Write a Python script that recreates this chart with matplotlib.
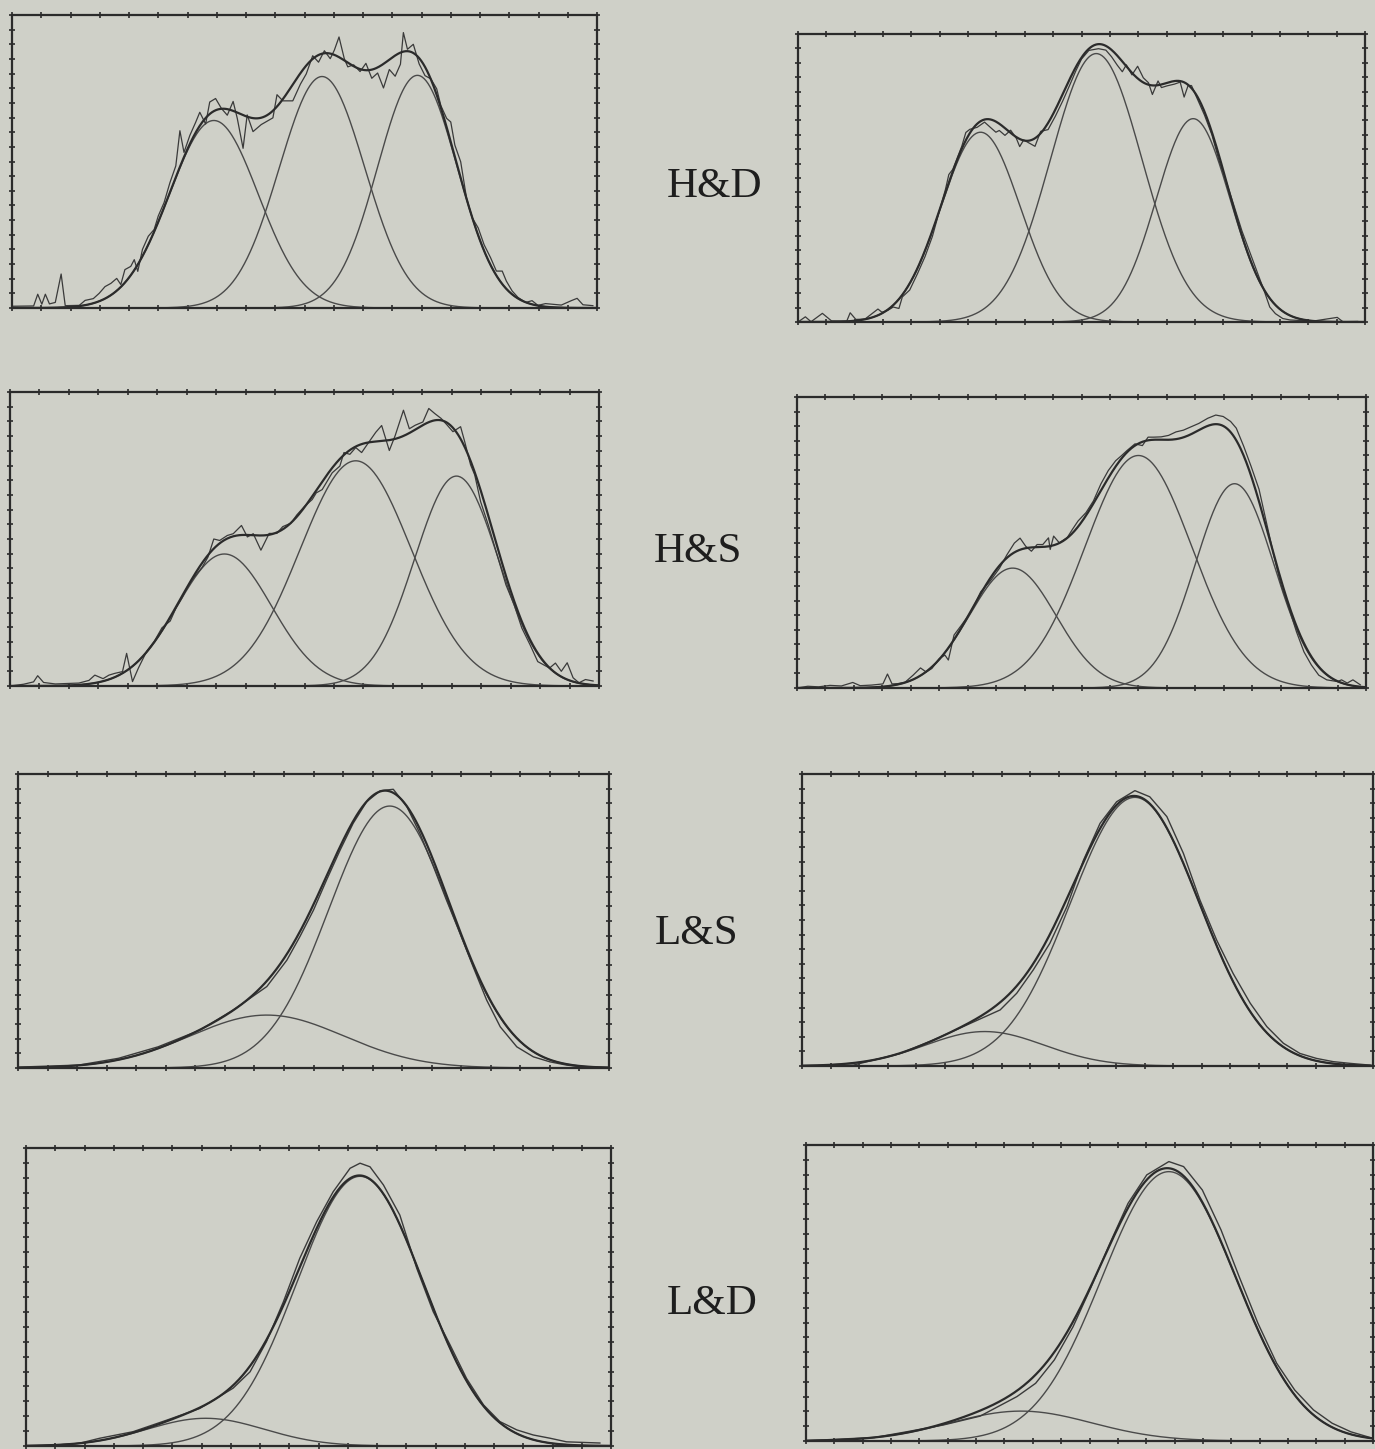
import numpy as np
import matplotlib
matplotlib.use("Agg")
import matplotlib.pyplot as plt

# ---------------- data (x: 0-100 channel scale, y: 0-100 relative counts) ----------------
row_labels = ["H&D", "H&S", "L&S", "L&D"]

# H&D, left panel
hd_l_x = [0, 3.7, 4.4, 5.1, 5.7, 6.4, 7.4, 8.4, 9.1, 11.5, 12.5, 13.9, 14.9, 15.9, 16.9, 17.9, 18.6, 19.3,
          20.3, 20.9, 21.5, 22.3, 23.3, 24.3, 25.0, 26.0, 27.0, 28.0, 28.7, 29.4, 30.4, 31.4, 32.1, 33.1,
          33.8, 34.8, 35.8, 36.8, 37.8, 38.5, 39.5, 40.2, 41.2, 42.6, 44.6, 45.3, 46.3, 48.0, 49.3, 50.3,
          51.4, 52.4, 53.4, 54.4, 55.1, 55.9, 56.8, 57.4, 58.4, 59.5, 60.5, 61.5, 62.5, 63.5, 64.5, 65.5,
          66.4, 66.9, 67.6, 68.6, 69.6, 70.6, 71.6, 72.6, 73.3, 74.3, 75.0, 75.7, 76.7, 77.7, 78.7, 79.7,
          80.7, 81.8, 82.8, 83.8, 84.5, 85.5, 86.5, 87.8, 88.9, 89.9, 91.2, 93.9, 95.6, 96.6, 97.6, 99.3]
hd_l_y = [0.6, 0.7, 4.7, 1.3, 4.7, 1.4, 1.9, 11.6, 0.8, 0.9, 2.6, 3.2, 5.0, 7.3, 8.4, 10.1, 8.0, 13.1,
          14.2, 16.5, 12.5, 20.0, 24.5, 26.8, 31.4, 36.0, 42.8, 48.5, 60.5, 53.1, 58.9, 63.4, 66.8, 62.8,
          70.3, 71.5, 68.1, 65.8, 70.5, 64.8, 54.5, 65.9, 60.2, 62.6, 64.9, 72.8, 70.7, 70.7, 76.4, 79.9,
          86.1, 83.9, 87.8, 85.1, 88.0, 92.5, 85.1, 82.3, 83.0, 80.7, 83.5, 78.4, 80.2, 75.1, 81.4, 79.1,
          83.2, 94.0, 88.3, 90.0, 83.3, 79.3, 78.2, 74.8, 69.1, 64.7, 63.5, 55.6, 49.9, 37.5, 30.7, 27.3,
          21.6, 17.2, 12.6, 12.6, 9.2, 5.8, 3.6, 1.9, 2.5, 0.9, 1.5, 1.0, 2.5, 3.3, 1.1, 0.8]
hd_l_center = [34.5, 53.0, 69.3]
hd_l_amp = [64.0, 79.0, 79.4]
hd_l_sigma = [7.6, 7.3, 6.8]

# H&D, right panel
hd_r_x = [0, 1.3, 2.3, 4.3, 5.9, 8.6, 9.2, 10.2, 11.8, 14.1, 14.8, 15.8, 16.8, 17.8, 18.4, 19.7, 21.1,
          22.4, 23.7, 25.0, 26.0, 26.6, 27.3, 28.0, 28.9, 29.6, 30.3, 31.6, 32.9, 34.2, 34.9, 35.5, 36.5,
          37.5, 38.5, 39.1, 39.8, 40.8, 41.8, 42.8, 44.1, 45.4, 46.7, 48.0, 49.0, 50.0, 51.3, 53.0, 54.3,
          55.3, 56.3, 57.2, 57.9, 58.9, 59.9, 60.9, 61.8, 62.5, 63.5, 64.1, 65.1, 66.4, 67.4, 68.1, 68.8,
          69.4, 70.4, 71.7, 73.0, 74.3, 75.7, 77.0, 78.3, 79.6, 80.9, 82.2, 83.2, 84.2, 85.5, 86.8, 90.8,
          95.1, 96.1, 98.7]
hd_r_y = [0, 1.8, 0.1, 3.0, 0.4, 0.3, 3.2, 0.9, 1.0, 4.5, 3.4, 4.0, 5.2, 4.7, 8.7, 11.1, 16.9,
          22.7, 29.7, 39.0, 46.0, 51.2, 53.0, 56.5, 61.1, 65.8, 66.9, 67.6, 69.4, 67.1, 65.9, 66.5, 64.8,
          66.6, 63.8, 60.9, 63.2, 62.1, 61.0, 66.2, 66.8, 71.5, 76.8, 82.6, 87.2, 91.3, 94.3, 94.9, 94.4,
          92.1, 89.2, 86.9, 89.3, 85.8, 88.8, 84.8, 83.1, 79.0, 83.7, 81.4, 82.0, 82.6, 83.3, 78.1, 82.1,
          82.1, 77.6, 71.8, 65.0, 55.8, 47.7, 39.7, 31.6, 24.7, 17.8, 10.9, 5.2, 2.9, 1.2, 0.7, 0.3,
          1.6, 0.1, 0.2]
hd_r_center = [32.2, 52.6, 69.7]
hd_r_amp = [65.9, 93.2, 70.6]
hd_r_sigma = [7.0, 8.07, 6.5]

# H&S, left panel
hs_l_x = [0, 2.3, 4.0, 4.7, 5.7, 7.7, 11.7, 13.4, 14.4, 15.8, 16.8, 17.8, 19.1, 19.8, 20.8, 21.8, 23.2,
          24.5, 25.8, 27.2, 28.2, 29.2, 30.2, 31.2, 32.6, 33.6, 34.6, 35.6, 36.9, 37.9, 39.3, 40.3, 41.3,
          42.6, 44.0, 45.3, 46.3, 47.7, 48.7, 50.0, 51.3, 52.0, 53.0, 54.7, 56.0, 56.7, 57.7, 58.7, 59.7,
          60.7, 62.1, 63.1, 64.4, 65.4, 66.8, 67.8, 68.8, 70.1, 71.1, 72.1, 73.2, 74.2, 75.2, 76.5, 77.2,
          78.2, 78.9, 79.9, 81.2, 82.2, 83.2, 84.2, 85.6, 86.9, 88.3, 89.6, 90.6, 91.6, 92.6, 93.6, 94.6,
          95.6, 96.6, 97.7, 99.0]
hs_l_y = [0, 0.6, 1.4, 3.5, 1.2, 0.7, 1.0, 1.9, 3.7, 2.5, 3.7, 4.3, 4.9, 11.1, 1.5, 6.1, 11.8,
          15.2, 19.8, 22.1, 26.6, 30.0, 34.0, 36.9, 40.3, 43.8, 50.0, 49.5, 51.2, 51.8, 54.6, 50.7, 51.8,
          46.2, 51.9, 51.9, 54.2, 55.4, 58.2, 61.1, 63.4, 65.7, 66.8, 72.5, 74.8, 79.4, 78.8, 81.1, 79.4,
          82.3, 86.3, 88.6, 80.1, 85.2, 93.8, 87.5, 88.7, 89.8, 94.4, 92.7, 91.0, 88.8, 86.5, 88.2, 83.1,
          75.2, 71.8, 62.7, 54.8, 48.0, 41.2, 34.4, 27.6, 19.7, 14.0, 8.3, 7.2, 6.1, 7.8, 5.0, 7.9,
          2.8, 1.1, 2.2, 1.7]
hs_l_center = [36.4, 58.7, 75.8]
hs_l_amp = [44.9, 76.6, 71.4]
hs_l_sigma = [8.0, 9.45, 7.1]

# H&S, right panel
hs_r_x = [0, 1.9, 3.8, 5.8, 7.8, 9.8, 11.1, 13.1, 15.1, 15.9, 16.7, 17.7, 19.0, 20.4, 21.7, 22.7, 23.7,
          25.0, 26.0, 26.6, 27.6, 28.9, 30.6, 32.3, 33.9, 35.6, 36.9, 38.2, 39.2, 40.2, 41.2, 42.2, 43.2,
          44.2, 44.5, 45.1, 46.1, 47.5, 48.4, 49.4, 50.8, 52.1, 53.4, 54.7, 56.0, 57.0, 58.0, 59.4, 60.7,
          61.7, 62.7, 64.0, 65.3, 66.6, 67.9, 69.3, 70.6, 72.2, 73.6, 74.9, 76.2, 77.2, 78.5, 79.8, 81.2,
          82.5, 83.8, 85.1, 86.5, 87.8, 89.1, 90.4, 91.7, 93.1, 95.0, 95.7, 96.7, 97.7, 99.0]
hs_r_y = [0, 0.6, 0.4, 0.9, 0.7, 1.9, 0.8, 1.0, 1.4, 4.8, 1.4, 1.5, 2.0, 4.4, 6.9, 5.5, 6.7,
          10.1, 11.3, 9.6, 18.2, 21.6, 26.2, 33.1, 36.6, 41.2, 45.8, 49.8, 51.5, 48.7, 47.0, 49.3, 49.3,
          51.6, 47.6, 52.2, 49.9, 51.7, 54.5, 57.4, 60.3, 64.3, 70.1, 74.7, 78.1, 79.8, 81.6, 83.9, 83.3,
          86.2, 86.2, 86.3, 86.8, 88.0, 88.6, 89.8, 90.9, 92.7, 93.8, 93.3, 91.6, 89.3, 83.1, 76.2, 68.3,
          56.9, 45.5, 35.2, 27.2, 19.2, 12.4, 7.9, 4.4, 2.8, 2.2, 2.8, 1.7, 2.8, 1.1]
hs_r_center = [37.9, 60.0, 76.9]
hs_r_amp = [41.2, 79.9, 70.2]
hs_r_sigma = [7.6, 9.4, 6.9]

# L&S, left panel
ls_l_x = [0, 10.3, 17.0, 23.7, 30.8, 36.4, 42.1, 45.5, 47.7, 50.0, 52.2, 54.5, 56.7, 59.0, 61.3, 63.5,
          65.8, 68.0, 70.3, 72.5, 74.8, 77.0, 79.3, 81.6, 84.4, 87.2, 90.0, 92.8, 95.7, 100]
ls_l_y = [0.3, 1.0, 3.3, 7.2, 12.9, 19.7, 27.7, 36.7, 44.7, 53.7, 63.9, 74.1, 83.2, 90.6, 94.3, 94.8,
          88.9, 79.8, 68.5, 57.1, 45.8, 34.5, 23.1, 14.0, 7.2, 3.8, 2.1, 1.0, 0.3, 0.2]
ls_l_center = [42.1, 62.9]
ls_l_amp = [18.0, 89.1]
ls_l_sigma = [13.0, 10.3]

# L&S, right panel
ls_r_x = [0, 4.4, 9.0, 17.2, 23.0, 28.8, 34.7, 37.6, 40.5, 43.4, 46.4, 49.3, 52.2, 55.1, 58.3, 60.9,
          63.9, 66.8, 69.7, 72.6, 75.5, 78.5, 81.4, 84.3, 87.2, 90.1, 93.0, 96.0, 99.5]
ls_r_y = [0, 0.1, 0.3, 4.3, 8.9, 14.0, 19.2, 24.9, 32.9, 42.0, 54.6, 70.5, 83.1, 90.5, 94.3, 92.2,
          85.4, 72.8, 56.8, 43.2, 31.7, 21.5, 13.5, 7.8, 4.3, 2.6, 1.5, 0.9, 0.3]
ls_r_center = [32.0, 58.3]
ls_r_amp = [11.8, 92.0]
ls_r_sigma = [10.4, 11.3]

# L&D, left panel
ld_l_x = [0, 5.0, 9.1, 12.6, 18.3, 24.1, 29.7, 35.4, 38.3, 41.1, 44.0, 46.8, 49.7, 52.5, 55.4, 57.1,
          58.8, 61.1, 63.9, 66.8, 69.6, 72.5, 75.3, 78.2, 81.0, 83.9, 86.7, 89.6, 92.4, 98.1]
ld_l_y = [0, 0.3, 0.9, 2.6, 4.8, 8.7, 12.6, 19.4, 24.9, 35.0, 48.4, 63.0, 75.3, 85.3, 93.2, 94.9,
          93.7, 87.6, 77.5, 59.6, 45.1, 33.9, 22.7, 13.8, 8.2, 5.4, 3.7, 2.6, 1.4, 1.0]
ld_l_center = [30.7, 57.1]
ld_l_amp = [9.3, 90.5]
ld_l_sigma = [10.0, 10.8]

# L&D, right panel
ld_r_x = [0, 12.1, 17.7, 24.2, 30.7, 37.2, 40.5, 43.8, 47.1, 50.3, 53.6, 56.8, 60.1, 64.0, 66.6, 69.9,
          73.2, 76.4, 79.7, 83.0, 86.2, 89.5, 92.8, 96.1, 100]
ld_r_y = [0.1, 1.2, 3.1, 5.4, 8.4, 15.0, 19.5, 27.4, 38.6, 52.1, 66.8, 80.3, 89.9, 94.4, 92.7, 84.8,
          71.3, 55.5, 39.8, 26.3, 17.2, 10.5, 6.0, 3.1, 0.9]
ld_r_center = [37.9, 64.0]
ld_r_amp = [10.1, 91.0]
ld_r_sigma = [12.5, 11.8]

# ---------------- layout ----------------
W, H = 1375, 1449
BG = "#cfd0c8"
INK = "#2b2b2b"

# panel boxes in pixels: (left, top, right, bottom)
boxes = [
    (12, 15, 597, 308), (798, 34, 1365, 322),
    (10, 392, 599, 686), (797, 397, 1366, 688),
    (18, 774, 609, 1068), (802, 774, 1373, 1066),
    (26, 1148, 611, 1446), (806, 1145, 1373, 1441),
]
panels = [
    (hd_l_x, hd_l_y, hd_l_center, hd_l_amp, hd_l_sigma),
    (hd_r_x, hd_r_y, hd_r_center, hd_r_amp, hd_r_sigma),
    (hs_l_x, hs_l_y, hs_l_center, hs_l_amp, hs_l_sigma),
    (hs_r_x, hs_r_y, hs_r_center, hs_r_amp, hs_r_sigma),
    (ls_l_x, ls_l_y, ls_l_center, ls_l_amp, ls_l_sigma),
    (ls_r_x, ls_r_y, ls_r_center, ls_r_amp, ls_r_sigma),
    (ld_l_x, ld_l_y, ld_l_center, ld_l_amp, ld_l_sigma),
    (ld_r_x, ld_r_y, ld_r_center, ld_r_amp, ld_r_sigma),
]
label_pos = [(715, 197), (698, 562), (697, 944), (712, 1314)]

fig = plt.figure(figsize=(W / 100, H / 100), dpi=100, facecolor=BG)

grid = np.linspace(0, 100, 600)
for i, ((l, t, r, b), (dx, dy, cen, amp, sig)) in enumerate(zip(boxes, panels)):
    ax = fig.add_axes([l / W, 1 - b / H, (r - l) / W, (b - t) / H])
    ax.set_facecolor(BG)
    comps = [a * np.exp(-(grid - c) ** 2 / (2 * s ** 2)) for c, a, s in zip(cen, amp, sig)]
    for comp in comps:
        ax.plot(grid, comp, color="#4a4a4a", lw=1.0)
    noisy = i < 4
    ax.plot(dx, dy, color="#3a3a3a", lw=0.9 if noisy else 1.0)
    ax.plot(grid, np.sum(comps, axis=0), color=INK, lw=1.6)
    ax.set_xlim(0, 100)
    ax.set_ylim(0, 100)
    ax.set_xticks(np.arange(0, 101, 5))
    ax.set_yticks(np.arange(0, 101, 5))
    ax.tick_params(direction="inout", length=5, width=1.2, color=INK,
                   top=True, right=True, labelbottom=False, labelleft=False)
    for sp in ax.spines.values():
        sp.set_color(INK)
        sp.set_linewidth(1.6)

for name, (x, y) in zip(row_labels, label_pos):
    fig.text(x / W, 1 - y / H, name, ha="center", va="baseline",
             fontsize=31, family=["Liberation Serif", "DejaVu Serif"], color="#1e1e1e")

fig.savefig("out.png", dpi=100, facecolor=BG)
